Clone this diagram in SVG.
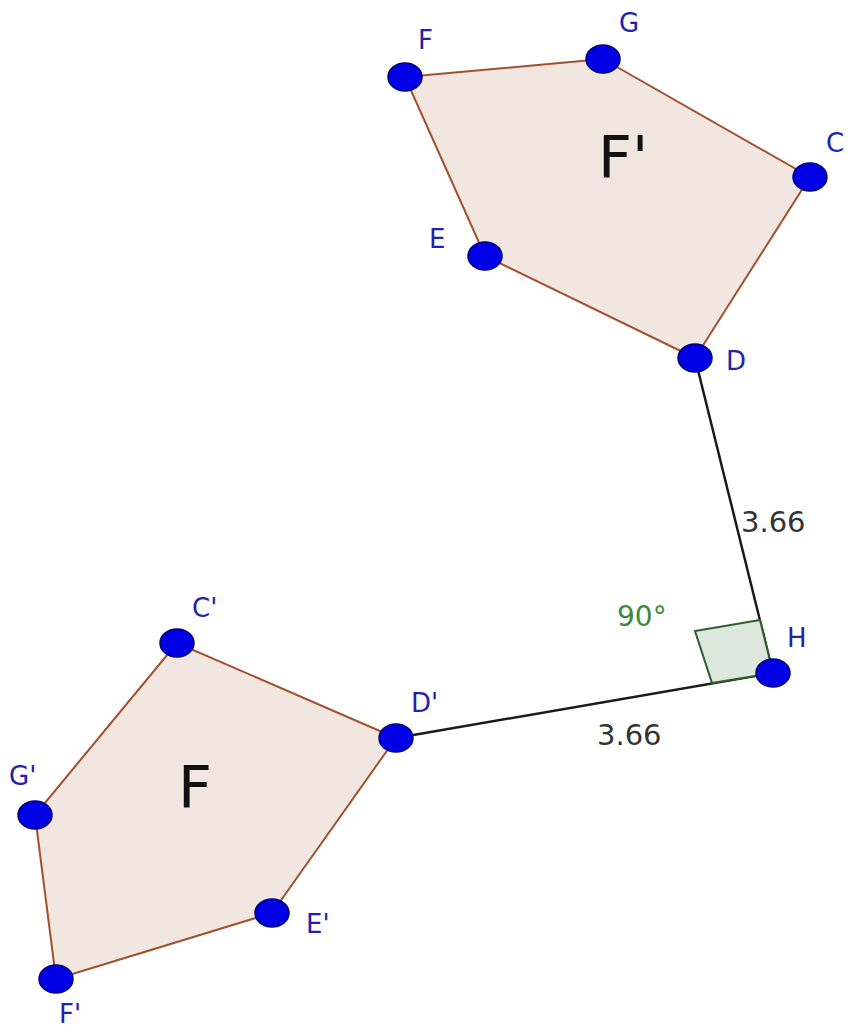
<svg xmlns="http://www.w3.org/2000/svg" width="850" height="1032" viewBox="0 0 850 1032">
<style>
.poly{fill:#f2e6e1;stroke:#a0522d;stroke-width:2;stroke-linejoin:round}
.seg{stroke:#1a1a1a;stroke-width:2.5;fill:none}
.pt{fill:#0000e6;stroke:#00007a;stroke-width:1.5}
.lbl{font-family:"DejaVu Sans",sans-serif;font-size:26px;fill:#2222aa}
.num{font-family:"DejaVu Sans",sans-serif;font-size:29px;fill:#333333}
.ang{font-family:"DejaVu Sans",sans-serif;font-size:28px;fill:#3c8a3c}
.big{font-family:"DejaVu Sans",sans-serif;font-size:59px;fill:#111111}
</style>
<rect width="850" height="1032" fill="#ffffff"/>
<g id="polygon-Fprime">
<polygon class="poly" points="405,77 603,59 810,177 695,358 485,256"/>
<text class="big" x="598" y="178">F'</text>
</g>
<g id="polygon-F">
<polygon class="poly" points="177,643 396,738 272,913 56,979 35,815"/>
<text class="big" x="178" y="808">F</text>
</g>
<g id="connectors">
<line class="seg" x1="695" y1="358" x2="773" y2="673"/>
<line class="seg" x1="396" y1="738" x2="773" y2="673"/>
<polygon points="760,620 695,631 712,683 773,673" fill="#dde8dd" stroke="#2e5e2e" stroke-width="2"/>
<text class="num" x="741" y="532">3.66</text>
<text class="num" x="597" y="745">3.66</text>
<text class="ang" x="617" y="626">90°</text>
</g>
<g id="point-F"><ellipse class="pt" cx="405" cy="77" rx="17" ry="14"/><text class="lbl" x="418" y="49">F</text></g>
<g id="point-G"><ellipse class="pt" cx="603" cy="59" rx="17" ry="14"/><text class="lbl" x="619" y="32">G</text></g>
<g id="point-C"><ellipse class="pt" cx="810" cy="177" rx="17" ry="14"/><text class="lbl" x="826" y="152">C</text></g>
<g id="point-D"><ellipse class="pt" cx="695" cy="358" rx="17" ry="14"/><text class="lbl" x="726" y="370">D</text></g>
<g id="point-E"><ellipse class="pt" cx="485" cy="256" rx="17" ry="14"/><text class="lbl" x="429" y="248">E</text></g>
<g id="point-H"><ellipse class="pt" cx="773" cy="673" rx="17" ry="14"/><text class="lbl" x="787" y="647">H</text></g>
<g id="point-Cp"><ellipse class="pt" cx="177" cy="643" rx="17" ry="14"/><text class="lbl" x="192" y="617">C'</text></g>
<g id="point-Dp"><ellipse class="pt" cx="396" cy="738" rx="17" ry="14"/><text class="lbl" x="411" y="712">D'</text></g>
<g id="point-Ep"><ellipse class="pt" cx="272" cy="913" rx="17" ry="14"/><text class="lbl" x="306" y="933">E'</text></g>
<g id="point-Fp"><ellipse class="pt" cx="56" cy="979" rx="17" ry="14"/><text class="lbl" x="59" y="1023">F'</text></g>
<g id="point-Gp"><ellipse class="pt" cx="35" cy="815" rx="17" ry="14"/><text class="lbl" x="9" y="785">G'</text></g>
</svg>
